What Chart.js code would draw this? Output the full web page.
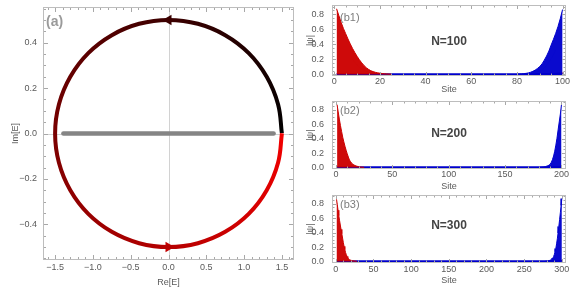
<!DOCTYPE html>
<html><head><meta charset="utf-8">
<script src="https://cdn.jsdelivr.net/npm/chart.js@4.4.1/dist/chart.umd.min.js"></script>
<style>
html,body{margin:0;padding:0;background:#fff;width:581px;height:293px;overflow:hidden}
.p{position:absolute}
</style></head><body>
<div class="p" style="left:0;top:0;width:300px;height:293px"><canvas id="ca"></canvas></div>
<div class="p" style="left:300px;top:0;width:281px;height:97px"><canvas id="cb1"></canvas></div>
<div class="p" style="left:300px;top:96px;width:281px;height:97px"><canvas id="cb2"></canvas></div>
<div class="p" style="left:300px;top:190px;width:281px;height:103px"><canvas id="cb3"></canvas></div>
<script>
// ---------- Panel (a): complex spectrum ----------
const ringRe = [1.5, 1.449, 1.299, 1.061, 0.75, 0.388, 0, -0.388, -0.75, -1.061, -1.299, -1.449, -1.5,
                -1.449, -1.299, -1.061, -0.75, -0.388, 0, 0.388, 0.75, 1.061, 1.299, 1.449, 1.5];
const ringIm = [0, 0.129, 0.25, 0.354, 0.433, 0.483, 0.5, 0.483, 0.433, 0.354, 0.25, 0.129, 0,
                -0.129, -0.25, -0.354, -0.433, -0.483, -0.5, -0.483, -0.433, -0.354, -0.25, -0.129, 0];
const obcRe = [-1.39, 1.39];
const obcIm = [0, 0];
const arrowRe = [0, 0];
const arrowIm = [0.5, -0.5];
const aXTicks = [-1.5, -1, -0.5, 0, 0.5, 1, 1.5];
const aXLabels = ['\u22121.5', '\u22121.0', '\u22120.5', '0.0', '0.5', '1.0', '1.5'];
const aYTicks = [-0.4, -0.2, 0, 0.2, 0.4];
const aYLabels = ['\u22120.4', '\u22120.2', '0.0', '0.2', '0.4'];

// ---------- Panels (b): |psi| profiles ----------
const bYTicks = [0, 0.2, 0.4, 0.6, 0.8];
const bYLabels = ['0.0', '0.2', '0.4', '0.6', '0.8'];
// b1, N=100  (red: from site 1 upward, blue: from site N downward)
const b1N = 100;
const b1XTicks = [0, 20, 40, 60, 80, 100];
const b1XLabels = ['0', '20', '40', '60', '80', '100'];
const b1Red = [0.87, 0.78, 0.69, 0.61, 0.54, 0.47, 0.405, 0.345, 0.29, 0.24, 0.195, 0.155, 0.12, 0.09, 0.068,
               0.05, 0.038, 0.029, 0.022, 0.017, 0.013, 0.01, 0.008, 0.006, 0.005];
const b1RedStripe = [0, 0, 0, 0, 0, 0, 0, 0.2, 0.16, 0.125, 0.095, 0.072, 0.054, 0.04, 0.03, 0.022, 0.016, 0.012, 0.009, 0.007];
const b1Blue = [0.86, 0.74, 0.635, 0.545, 0.465, 0.39, 0.31, 0.245, 0.19, 0.14, 0.105, 0.08, 0.058, 0.042, 0.03,
                0.021, 0.015, 0.011, 0.008, 0.006, 0.005];
const b1BlueStripe = [0, 0, 0, 0.33, 0.27, 0.21, 0.16, 0.12, 0.09, 0.065, 0.048, 0.035, 0.025];
const b1RedTail = [0.02, 0.018, 0.016, 0.014, 0.013, 0.012, 0.011, 0.01, 0.01, 0.009, 0.008, 0.008, 0.007];
// b2, N=200
const b2N = 200;
const b2XTicks = [0, 50, 100, 150, 200];
const b2XLabels = ['0', '50', '100', '150', '200'];
const b2Red = [0.87, 0.77, 0.67, 0.58, 0.5, 0.42, 0.355, 0.295, 0.24, 0.19, 0.145, 0.105, 0.08, 0.06, 0.045,
               0.035, 0.028, 0.022, 0.017, 0.013, 0.01, 0.008, 0.006, 0.005, 0.004];
const b2Blue = [0.87, 0.74, 0.63, 0.52, 0.405, 0.31, 0.226, 0.16, 0.11, 0.072, 0.047, 0.034, 0.025, 0.02, 0.015,
                0.012, 0.009, 0.007, 0.005, 0.004, 0.003];
const b2RedTail = [0.016, 0.014, 0.012, 0.011, 0.01, 0.009, 0.008, 0.007];
// b3, N=300
const b3N = 300;
const b3XTicks = [0, 50, 100, 150, 200, 250, 300];
const b3XLabels = ['0', '50', '100', '150', '200', '250', '300'];
const b3Red = [0.86, 0.79, 0.71, 0.635, 0.57, 0.505, 0.445, 0.385, 0.325, 0.265, 0.21, 0.165, 0.125, 0.095, 0.07,
               0.052, 0.038, 0.028, 0.022, 0.018, 0.015, 0.013, 0.011, 0.009, 0.008, 0.007, 0.006, 0.005];
const b3Blue = [0.87, 0.775, 0.675, 0.58, 0.485, 0.395, 0.315, 0.245, 0.18, 0.135, 0.097, 0.068, 0.048, 0.036, 0.028,
                0.022, 0.017, 0.013, 0.01, 0.008, 0.006, 0.005, 0.004];
const b3RedTail = [0.014, 0.012, 0.011, 0.01, 0.009, 0.008];
const baseLevel = 0.003;

// ---------- styling ----------
const FONT = "'Liberation Sans', Arial, sans-serif";
Chart.defaults.font.family = FONT;
Chart.defaults.font.size = 9;
const TXT = '#5a5a5a';

const frame = {
  id: 'frame',
  beforeDatasetsDraw(chart, _a, o) {
    if (!o.zero) return;
    const {ctx, chartArea: a, scales: {x, y}} = chart;
    ctx.save();
    ctx.strokeStyle = '#d2d2d2'; ctx.lineWidth = 1;
    const px = Math.round(x.getPixelForValue(0)) + 0.5;
    const py = Math.round(y.getPixelForValue(0)) + 0.5;
    ctx.beginPath();
    ctx.moveTo(px, a.top); ctx.lineTo(px, a.bottom);
    ctx.moveTo(a.left, py); ctx.lineTo(a.right, py);
    ctx.stroke();
    ctx.restore();
  },
  afterDatasetsDraw(chart, _a, o) {
    if (!o.xMajor) return;
    const {ctx, chartArea: a, scales: {x, y}} = chart;
    ctx.save();
    ctx.lineWidth = 1;
    ctx.strokeStyle = '#a8a8a8';
    ctx.beginPath();
    const xt = (step, len) => {
      for (let k = Math.ceil(x.min / step - 1e-9); k * step <= x.max + 1e-9; k++) {
        const px = Math.round(x.getPixelForValue(k * step)) + 0.5;
        ctx.moveTo(px, a.bottom); ctx.lineTo(px, a.bottom - len);
        ctx.moveTo(px, a.top); ctx.lineTo(px, a.top + len);
      }
    };
    const yt = (step, len) => {
      for (let k = Math.ceil(y.min / step - 1e-9); k * step <= y.max + 1e-9; k++) {
        const py = Math.round(y.getPixelForValue(k * step)) + 0.5;
        ctx.moveTo(a.left, py); ctx.lineTo(a.left + len, py);
        ctx.moveTo(a.right, py); ctx.lineTo(a.right - len, py);
      }
    };
    xt(o.xMinor, o.minorLen); yt(o.yMinor, o.minorLen);
    xt(o.xMajor, o.majorLen); yt(o.yMajor, o.majorLen);
    ctx.stroke();
    ctx.strokeStyle = '#bdbdbd';
    ctx.strokeRect(Math.round(a.left) + 0.5, Math.round(a.top) + 0.5, Math.round(a.width) - 1, Math.round(a.height) - 1);
    for (const t of (o.texts || [])) {
      ctx.font = t.font; ctx.fillStyle = t.color; ctx.textAlign = t.align; ctx.textBaseline = 'middle';
      ctx.fillText(t.text, a.left + t.dx, a.top + t.dy);
    }
    ctx.restore();
  }
};
Chart.register(frame);

function xScale(min, max, vals, labels, title, tickPad, titlePadB, h) {
  return {
    type: 'linear', min, max,
    grid: {display: false, drawTicks: false}, border: {display: false},
    afterBuildTicks: s => { s.ticks = vals.map(v => ({value: v})); },
    afterFit: s => { s.height = h; s.paddingLeft = 0; s.paddingRight = 0; },
    ticks: {callback: (v, i) => labels[i], padding: tickPad, maxRotation: 0, autoSkip: false, color: TXT, font: {size: 9}},
    title: {display: true, text: title, color: TXT, font: {size: 9}, padding: {top: 0, bottom: titlePadB}}
  };
}
function yScale(min, max, vals, labels, title, tickPad, titlePadT, w) {
  return {
    type: 'linear', min, max,
    grid: {display: false, drawTicks: false}, border: {display: false},
    afterBuildTicks: s => { s.ticks = vals.map(v => ({value: v})); },
    afterFit: s => { s.width = w; s.paddingTop = 0; s.paddingBottom = 0; },
    ticks: {callback: (v, i) => labels[i], padding: tickPad, autoSkip: false, color: TXT, font: {size: 9}},
    title: {display: true, text: title, color: TXT, font: {size: 9}, padding: {top: titlePadT, bottom: 0}}
  };
}
const pts = (xs, ys) => xs.map((v, i) => ({x: v, y: ys[i]}));

function ringColor(c) {
  const ch = c.chart;
  if (!ch.chartArea) return '#800000';
  const cx = ch.scales.x.getPixelForValue(0), cy = ch.scales.y.getPixelForValue(0);
  const g = ch.ctx.createConicGradient(0, cx, cy);
  g.addColorStop(0, '#f20000');
  g.addColorStop(1, '#000000');
  return g;
}

new Chart(document.getElementById('ca'), {
  type: 'scatter',
  data: {datasets: [
    {data: pts(ringRe, ringIm), showLine: true, tension: 0.4, borderWidth: 4, pointRadius: 0, borderColor: ringColor, fill: false},
    {data: pts(obcRe, obcIm), showLine: true, borderColor: '#858585', borderWidth: 4.5, borderCapStyle: 'round', pointRadius: 0},
    {data: pts(arrowRe, arrowIm), pointStyle: 'triangle', rotation: [-90, 90], pointRadius: 6,
     backgroundColor: ['#3a0000', '#c20000'], borderWidth: 0}
  ]},
  options: {
    responsive: true, maintainAspectRatio: false, animation: false,
    layout: {padding: {left: 0, right: 4, top: 7, bottom: 0}},
    plugins: {legend: {display: false}, tooltip: {enabled: false},
      frame: {zero: true, xMajor: 0.5, xMinor: 0.1, yMajor: 0.2, yMinor: 0.05, majorLen: 5, minorLen: 3,
        texts: [{text: '(a)', font: 'bold 14px ' + FONT, color: '#9a9a9a', align: 'left', dx: 3, dy: 15}]}},
    scales: {
      x: xScale(-1.66, 1.66, aXTicks, aXLabels, 'Re[E]', 2.5, 5, 33),
      y: yScale(-0.557, 0.557, aYTicks, aYLabels, 'Im[E]', 6, 10, 43)
    }
  }
});

function bChart(id, c) {
  const red = c.red.map((v, i) => ({x: i + 1, y: v}));
  const blue = c.blue.map((v, i) => ({x: c.N - i, y: v}));
  const ds = [
    {data: red, showLine: true, borderColor: '#cc0000', borderWidth: 1, backgroundColor: 'rgba(204,0,0,0.96)', fill: 'origin', pointRadius: 0},
    {data: blue, showLine: true, borderColor: '#0000cc', borderWidth: 1, backgroundColor: 'rgba(0,0,204,0.96)', fill: 'origin', pointRadius: 0},
    {data: [{x: 1, y: baseLevel}, {x: c.N, y: baseLevel}], showLine: true, borderColor: '#0000cc', borderWidth: 2, pointRadius: 0},
    {data: c.redTail.map((v, i) => ({x: c.N - i, y: v})), showLine: true, borderColor: '#dd0000', borderWidth: 1.5, pointRadius: 0}
  ];
  if (c.redStripe) ds.push({data: c.redStripe.map((v, i) => ({x: i + 1, y: v})).filter(p => p.y > 0), showLine: true,
    borderColor: 'rgba(255,190,190,0.55)', borderWidth: 1, pointRadius: 0});
  if (c.blueStripe) ds.push({data: c.blueStripe.map((v, i) => ({x: c.N - i, y: v})).filter(p => p.y > 0), showLine: true,
    borderColor: 'rgba(170,170,255,0.55)', borderWidth: 1, pointRadius: 0});
  new Chart(document.getElementById(id), {
    type: 'scatter',
    data: {datasets: ds},
    options: {
      responsive: true, maintainAspectRatio: false, animation: false,
      layout: {padding: {left: 0, right: 15, top: 5, bottom: 0}},
      plugins: {legend: {display: false}, tooltip: {enabled: false},
        frame: {xMajor: c.xMajor, xMinor: c.xMinor, yMajor: 0.2, yMinor: 0.05, majorLen: 4, minorLen: 2.5,
          texts: [
            {text: c.tag, font: '11px ' + FONT, color: '#7d7d7d', align: 'left', dx: 8, dy: c.tagDy},
            {text: 'N=' + c.N, font: 'bold 12px ' + FONT, color: '#444', align: 'center', dx: 117, dy: c.nDy}
          ]}},
      scales: {
        x: xScale(c.xMin, c.xMax, c.xTicks, c.xLabels, 'Site', c.tickPad, c.titlePadB, c.axisH),
        y: yScale(-0.02, 0.92, bYTicks, bYLabels, '|\u03c8|', 8, 5.6, 32)
      }
    }
  });
}

bChart('cb1', {N: b1N, xMin: -1, xMax: 101.5, xTicks: b1XTicks, xLabels: b1XLabels, xMajor: 20, xMinor: 5,
  red: b1Red, blue: b1Blue, redTail: b1RedTail, redStripe: b1RedStripe, blueStripe: b1BlueStripe,
  tag: '(b1)', tagDy: 13, nDy: 36.5, tickPad: 0, titlePadB: 2, axisH: 21});
bChart('cb2', {N: b2N, xMin: -3.5, xMax: 204, xTicks: b2XTicks, xLabels: b2XLabels, xMajor: 50, xMinor: 10,
  red: b2Red, blue: b2Blue, redTail: b2RedTail,
  tag: '(b2)', tagDy: 10, nDy: 33, tickPad: 0.6, titlePadB: 0.6, axisH: 24});
bChart('cb3', {N: b3N, xMin: -5, xMax: 305.5, xTicks: b3XTicks, xLabels: b3XLabels, xMajor: 50, xMinor: 10,
  red: b3Red, blue: b3Blue, redTail: b3RedTail,
  tag: '(b3)', tagDy: 10.3, nDy: 30.7, tickPad: 1.6, titlePadB: 6.9, axisH: 30});
</script>
</body></html>
